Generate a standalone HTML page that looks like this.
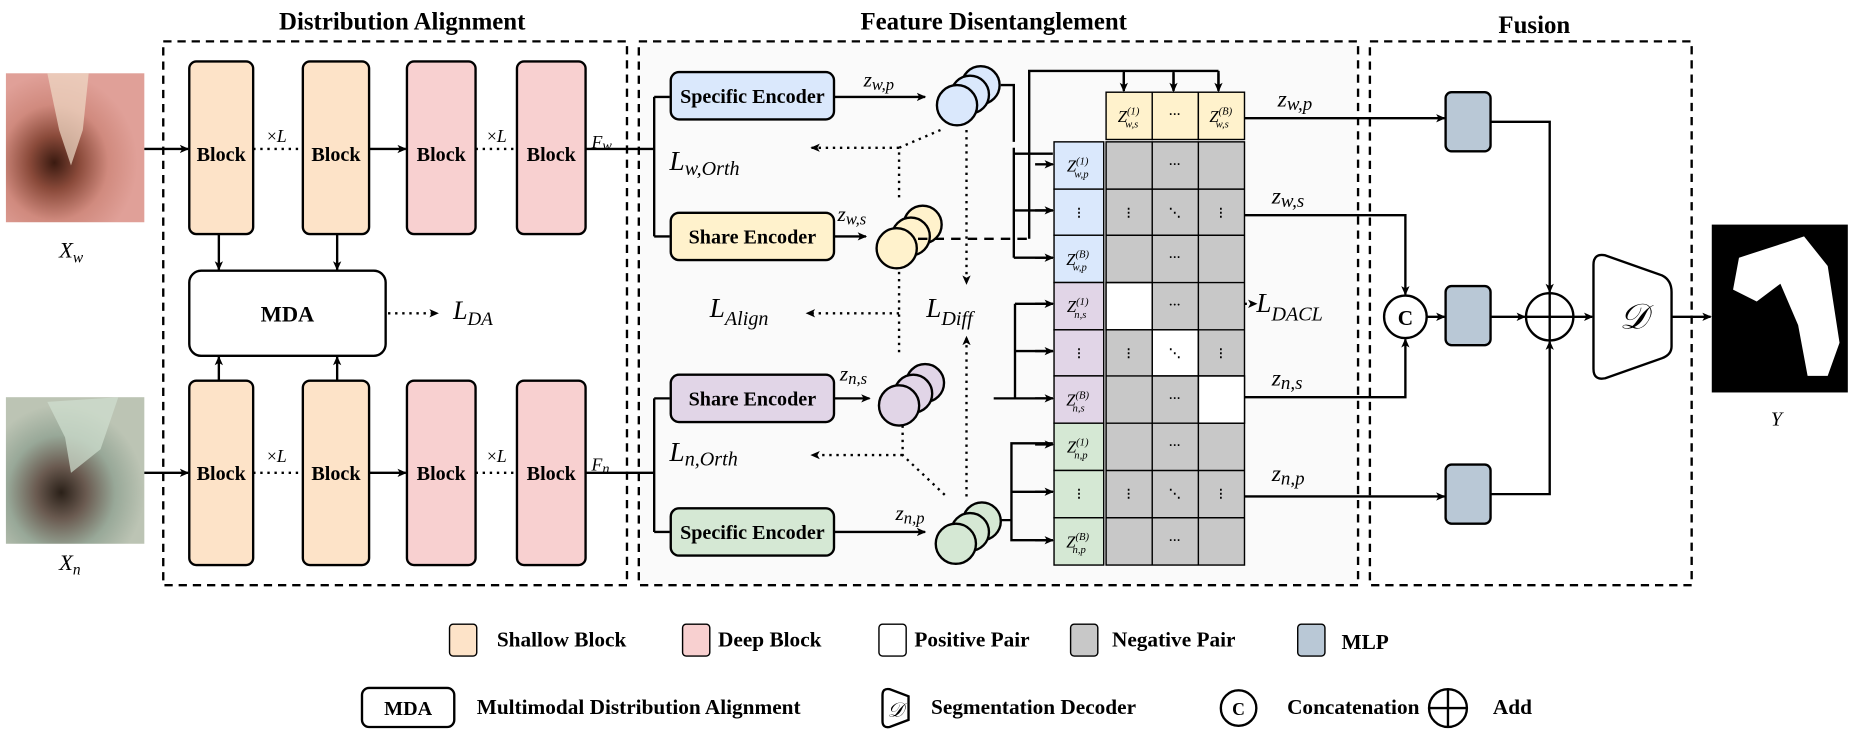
<!DOCTYPE html>
<html><head><meta charset="utf-8"><style>
html,body{margin:0;padding:0;background:#fff}
svg{display:block}
text{font-family:"Liberation Serif",serif}
.b{font-weight:bold}
.m{font-style:italic}
</style></head><body>
<svg width="1849" height="740" viewBox="0 0 1563 626" preserveAspectRatio="none" xmlns="http://www.w3.org/2000/svg">
<defs>
<marker id="a" markerWidth="8" markerHeight="8" refX="7" refY="4" orient="auto" markerUnits="userSpaceOnUse"><path d="M0,0.5 L8,4 L0,7.5 L2,4z" fill="#000"/></marker>
<radialGradient id="gw" cx="0.35" cy="0.6" r="0.6"><stop offset="0" stop-color="#3a1a10"/><stop offset="0.3" stop-color="#8a4a3a"/><stop offset="0.65" stop-color="#d08a7e"/><stop offset="1" stop-color="#e0a098"/></radialGradient>
<radialGradient id="gn" cx="0.4" cy="0.65" r="0.6"><stop offset="0" stop-color="#2a2018"/><stop offset="0.3" stop-color="#6a5a50"/><stop offset="0.65" stop-color="#98a898"/><stop offset="1" stop-color="#bcc4b4"/></radialGradient>
</defs>
<text x="340" y="25" font-size="21" class="b" text-anchor="middle">Distribution Alignment</text>
<text x="840" y="25" font-size="21" class="b" text-anchor="middle">Feature Disentanglement</text>
<text x="1297" y="28" font-size="21" class="b" text-anchor="middle">Fusion</text>
<rect x="541" y="36" width="606" height="458" fill="#f7f7f7" opacity="0.6"/>
<g fill="none" stroke="#000" stroke-width="2" stroke-dasharray="7,5">
<rect x="138" y="35" width="392" height="460"/>
<rect x="540" y="35" width="608" height="460"/>
<rect x="1158" y="35" width="272" height="460"/>
</g>
<rect x="5" y="62" width="117" height="126" fill="url(#gw)"/>
<path d="M40,62 L75,62 L70,110 L60,140 L50,110z" fill="#f0dcc8" opacity="0.7"/>
<rect x="5" y="336" width="117" height="124" fill="url(#gn)"/>
<path d="M40,340 L100,336 L85,380 L60,400 L55,370z" fill="#d0e0d0" opacity="0.7"/>
<text x="50" y="218" font-size="19" class="m">X<tspan font-size="13" dy="4">w</tspan></text>
<text x="50" y="482" font-size="19" class="m">X<tspan font-size="13" dy="4">n</tspan></text>
<rect x="1447" y="190" width="115" height="142" fill="#000"/>
<path d="M1470,218 L1510,205 L1525,200 L1545,225 L1555,290 L1545,318 L1528,318 L1520,275 L1505,240 L1485,255 L1465,245z" fill="#fff"/>
<text x="1497" y="360" font-size="17" class="m">Y</text>
<g stroke="#000" stroke-width="2">
<rect x="160" y="52" width="54" height="146" rx="6" fill="#fde3c8"/>
<rect x="256" y="52" width="56" height="146" rx="6" fill="#fde3c8"/>
<rect x="344" y="52" width="58" height="146" rx="6" fill="#f8d0d0"/>
<rect x="437" y="52" width="58" height="146" rx="6" fill="#f8d0d0"/>
<rect x="160" y="322" width="54" height="156" rx="6" fill="#fde3c8"/>
<rect x="256" y="322" width="56" height="156" rx="6" fill="#fde3c8"/>
<rect x="344" y="322" width="58" height="156" rx="6" fill="#f8d0d0"/>
<rect x="437" y="322" width="58" height="156" rx="6" fill="#f8d0d0"/>
<rect x="160" y="229" width="166" height="72" rx="10" fill="#fff"/>
</g>
<g font-size="17" class="b" text-anchor="middle">
<text x="187" y="136">Block</text><text x="284" y="136">Block</text><text x="373" y="136">Block</text><text x="466" y="136">Block</text>
<text x="187" y="406">Block</text><text x="284" y="406">Block</text><text x="373" y="406">Block</text><text x="466" y="406">Block</text>
<text x="243" y="272" font-size="19">MDA</text>
</g>
<g font-size="15" text-anchor="middle"><text x="234" y="120">×<tspan class="m">L</tspan></text><text x="420" y="120">×<tspan class="m">L</tspan></text>
<text x="234" y="391">×<tspan class="m">L</tspan></text><text x="420" y="391">×<tspan class="m">L</tspan></text></g>
<g stroke="#000" stroke-width="2" fill="none">
<line x1="122" y1="126" x2="159" y2="126" marker-end="url(#a)"/>
<line x1="122" y1="400" x2="159" y2="400" marker-end="url(#a)"/>
<line x1="312" y1="126" x2="343" y2="126" marker-end="url(#a)"/>
<line x1="312" y1="400" x2="343" y2="400" marker-end="url(#a)"/>
<line x1="185" y1="198" x2="185" y2="228" marker-end="url(#a)"/>
<line x1="285" y1="198" x2="285" y2="228" marker-end="url(#a)"/>
<line x1="185" y1="322" x2="185" y2="302" marker-end="url(#a)"/>
<line x1="285" y1="322" x2="285" y2="302" marker-end="url(#a)"/>
<path d="M495,126 H553 M553,82 V200 M553,82 H566 M553,200 H566" />
<path d="M495,400 H553 M553,337 V450 M553,337 H566 M553,450 H566"/>
</g>
<g stroke="#000" stroke-width="2" stroke-dasharray="2,4" fill="none">
<line x1="214" y1="126" x2="256" y2="126"/><line x1="402" y1="126" x2="437" y2="126"/>
<line x1="214" y1="400" x2="256" y2="400"/><line x1="402" y1="400" x2="437" y2="400"/>
<line x1="328" y1="265" x2="370" y2="265" marker-end="url(#a)"/>
</g>
<text x="500" y="125" font-size="15" class="m">F<tspan font-size="12" dy="2">w</tspan></text>
<text x="500" y="398" font-size="15" class="m">F<tspan font-size="12" dy="2">n</tspan></text>
<text x="383" y="270" font-size="22" class="m">L<tspan font-size="16" dy="5">DA</tspan></text>
<g stroke="#000" stroke-width="2">
<rect x="567" y="61" width="138" height="40" rx="7" fill="#dae8fc"/>
<rect x="567" y="180" width="138" height="40" rx="7" fill="#fff2cc"/>
<rect x="567" y="317" width="138" height="40" rx="7" fill="#e1d5e7"/>
<rect x="567" y="430" width="138" height="40" rx="7" fill="#d5e8d4"/>
</g>
<g font-size="17" class="b" text-anchor="middle">
<text x="636" y="87">Specific Encoder</text><text x="636" y="206">Share Encoder</text>
<text x="636" y="343">Share Encoder</text><text x="636" y="456">Specific Encoder</text></g>
<g stroke="#000" stroke-width="2">
<circle cx="829" cy="72" r="16" fill="#dae8fc"/><circle cx="820" cy="80" r="16" fill="#dae8fc"/><circle cx="809" cy="89" r="17" fill="#dae8fc"/>
<circle cx="780" cy="190" r="16" fill="#fff2cc"/><circle cx="770" cy="200" r="16" fill="#fff2cc"/><circle cx="758" cy="210" r="17" fill="#fff2cc"/>
<circle cx="782" cy="324" r="16" fill="#e1d5e7"/><circle cx="772" cy="333" r="16" fill="#e1d5e7"/><circle cx="760" cy="343" r="17" fill="#e1d5e7"/>
<circle cx="830" cy="441" r="16" fill="#d5e8d4"/><circle cx="820" cy="450" r="16" fill="#d5e8d4"/><circle cx="808" cy="460" r="17" fill="#d5e8d4"/>
</g>
<g stroke="#000" stroke-width="2" fill="none">
<line x1="705" y1="82" x2="782" y2="82" marker-end="url(#a)"/>
<line x1="705" y1="200" x2="732" y2="200" marker-end="url(#a)"/>
<line x1="705" y1="337" x2="735" y2="337" marker-end="url(#a)"/>
<line x1="705" y1="450" x2="782" y2="450" marker-end="url(#a)"/>
<path d="M846,72 H857 V120 M857,125 V155 M857,130 H890 M857,145 V218 M857,178 H890 M857,218 H890"/>
<path d="M870,202 V60 H1030 M950,60 V76 M992,60 V76 M1030,60 V76"/>
<path d="M858,257 H890 M858,257 V337 M840,337 H858 M858,297 H890 M858,337 H890"/>
<path d="M855,425 V375 H890 M855,416 H890 M855,425 V457 H890 M846,440 H855"/>
</g>
<g stroke="#000" stroke-width="2" fill="none" marker-end="url(#a)">
<line x1="950" y1="62" x2="950" y2="77"/><line x1="992" y1="62" x2="992" y2="77"/><line x1="1030" y1="62" x2="1030" y2="77"/>
<line x1="875" y1="139" x2="890" y2="139"/><line x1="875" y1="178" x2="890" y2="178"/><line x1="875" y1="218" x2="890" y2="218"/>
<line x1="875" y1="257" x2="890" y2="257"/><line x1="875" y1="297" x2="890" y2="297"/><line x1="875" y1="337" x2="890" y2="337"/>
<line x1="875" y1="376" x2="890" y2="376"/><line x1="875" y1="416" x2="890" y2="416"/><line x1="875" y1="457" x2="890" y2="457"/>
</g>
<line x1="776" y1="202" x2="870" y2="202" stroke="#000" stroke-width="2" stroke-dasharray="8,6"/>
<g stroke="#000" stroke-width="2" stroke-dasharray="2,4" fill="none">
<path d="M795,110 L760,125 V170"/>
<line x1="760" y1="125" x2="686" y2="125" marker-end="url(#a)"/>
<line x1="817" y1="110" x2="817" y2="240" marker-end="url(#a)"/>
<path d="M760,230 V300"/>
<line x1="760" y1="265" x2="682" y2="265" marker-end="url(#a)"/>
<line x1="817" y1="420" x2="817" y2="285" marker-end="url(#a)"/>
<path d="M763,360 V385 L800,420"/>
<line x1="763" y1="385" x2="686" y2="385" marker-end="url(#a)"/>
<line x1="1052" y1="257" x2="1062" y2="257" marker-end="url(#a)"/>
</g>
<g font-size="23" class="m">
<text x="566" y="144">L<tspan font-size="17" dy="4">w,Orth</tspan></text>
<text x="600" y="268">L<tspan font-size="17" dy="7">Align</tspan></text>
<text x="783" y="268">L<tspan font-size="17" dy="7">Diff</tspan></text>
<text x="566" y="390">L<tspan font-size="17" dy="4">n,Orth</tspan></text>
<text x="1062" y="264">L<tspan font-size="17" dy="7">DACL</tspan></text>
</g>
<g font-size="18" class="m">
<text x="730" y="73">z<tspan font-size="14" dy="3">w,p</tspan></text>
<text x="708" y="187">z<tspan font-size="14" dy="3">w,s</tspan></text>
<text x="710" y="322">z<tspan font-size="14" dy="3">n,s</tspan></text>
<text x="757" y="440">z<tspan font-size="14" dy="3">n,p</tspan></text>
<text x="1080" y="90" font-size="20">z<tspan font-size="16" dy="3">w,p</tspan></text>
<text x="1075" y="172" font-size="20">z<tspan font-size="16" dy="3">w,s</tspan></text>
<text x="1075" y="326" font-size="20">z<tspan font-size="16" dy="3">n,s</tspan></text>
<text x="1075" y="407" font-size="20">z<tspan font-size="16" dy="3">n,p</tspan></text>
</g>
<g stroke="#000" stroke-width="1.2">
<rect x="935" y="78" width="39" height="40" fill="#fff2cc"/><rect x="974" y="78" width="39" height="40" fill="#fff2cc"/><rect x="1013" y="78" width="39" height="40" fill="#fff2cc"/>
<rect x="891" y="120" width="42" height="40" fill="#dae8fc"/><rect x="891" y="160" width="42" height="39" fill="#dae8fc"/><rect x="891" y="199" width="42" height="40" fill="#dae8fc"/>
<rect x="891" y="239" width="42" height="40" fill="#e1d5e7"/><rect x="891" y="279" width="42" height="39" fill="#e1d5e7"/><rect x="891" y="318" width="42" height="40" fill="#e1d5e7"/>
<rect x="891" y="358" width="42" height="40" fill="#d5e8d4"/><rect x="891" y="398" width="42" height="40" fill="#d5e8d4"/><rect x="891" y="438" width="42" height="40" fill="#d5e8d4"/>
<rect x="935" y="120" width="117" height="358" fill="#c8c8c8"/>
<rect x="935" y="239" width="39" height="40" fill="#fff"/><rect x="974" y="279" width="39" height="39" fill="#fff"/><rect x="1013" y="318" width="39" height="40" fill="#fff"/>
<path d="M974,120 V478 M1013,120 V478 M935,160 H1052 M935,199 H1052 M935,239 H1052 M935,279 H1052 M935,318 H1052 M935,358 H1052 M935,398 H1052 M935,438 H1052" fill="none"/>
</g>
<g font-size="14" class="m" text-anchor="middle">
<text x="954" y="103">Z<tspan font-size="9" dy="-6">(1)</tspan><tspan font-size="9" dx="-12" dy="11">w,s</tspan></text>
<text x="1032" y="103">Z<tspan font-size="9" dy="-6">(B)</tspan><tspan font-size="9" dx="-14" dy="11">w,s</tspan></text>
<text x="911" y="145">Z<tspan font-size="9" dy="-6">(1)</tspan><tspan font-size="9" dx="-12" dy="11">w,p</tspan></text>
<text x="911" y="224">Z<tspan font-size="9" dy="-6">(B)</tspan><tspan font-size="9" dx="-14" dy="11">w,p</tspan></text>
<text x="911" y="264">Z<tspan font-size="9" dy="-6">(1)</tspan><tspan font-size="9" dx="-12" dy="11">n,s</tspan></text>
<text x="911" y="343">Z<tspan font-size="9" dy="-6">(B)</tspan><tspan font-size="9" dx="-14" dy="11">n,s</tspan></text>
<text x="911" y="383">Z<tspan font-size="9" dy="-6">(1)</tspan><tspan font-size="9" dx="-12" dy="11">n,p</tspan></text>
<text x="911" y="463">Z<tspan font-size="9" dy="-6">(B)</tspan><tspan font-size="9" dx="-14" dy="11">n,p</tspan></text>
</g>
<g font-size="10" text-anchor="middle" font-weight="bold">
<text x="993" y="100">···</text>
<text x="993" y="142">···</text><text x="993" y="221">···</text><text x="993" y="261">···</text><text x="993" y="340">···</text><text x="993" y="380">···</text><text x="993" y="460">···</text>
<text x="912" y="183">⋮</text><text x="954" y="183">⋮</text><text x="993" y="183">⋱</text><text x="1032" y="183">⋮</text>
<text x="912" y="302">⋮</text><text x="954" y="302">⋮</text><text x="993" y="302">⋱</text><text x="1032" y="302">⋮</text>
<text x="912" y="421">⋮</text><text x="954" y="421">⋮</text><text x="993" y="421">⋱</text><text x="1032" y="421">⋮</text>
</g>
<g stroke="#000" stroke-width="2" fill="none">
<line x1="1052" y1="100" x2="1221" y2="100" marker-end="url(#a)"/>
<path d="M1052,182 H1188 V249" marker-end="url(#a)"/>
<path d="M1052,336 H1188 V287" marker-end="url(#a)"/>
<line x1="1052" y1="420" x2="1221" y2="420" marker-end="url(#a)"/>
<line x1="1206" y1="268" x2="1221" y2="268" marker-end="url(#a)"/>
<line x1="1260" y1="268" x2="1289" y2="268" marker-end="url(#a)"/>
<path d="M1260,103 H1310 V247" marker-end="url(#a)"/>
<path d="M1260,418 H1310 V289" marker-end="url(#a)"/>
<line x1="1330" y1="268" x2="1346" y2="268" marker-end="url(#a)"/>
<line x1="1413" y1="268" x2="1446" y2="268" marker-end="url(#a)"/>
</g>
<g stroke="#000" stroke-width="2">
<rect x="1222" y="78" width="38" height="50" rx="5" fill="#b9c8d6"/>
<rect x="1222" y="242" width="38" height="50" rx="5" fill="#b9c8d6"/>
<rect x="1222" y="393" width="38" height="50" rx="5" fill="#b9c8d6"/>
<circle cx="1188" cy="268" r="18" fill="#fff"/>
<circle cx="1310" cy="268" r="20" fill="#fff"/>
<path d="M1290,268 H1330 M1310,248 V288"/>
<path d="M1347,224 Q1347,214 1357,216 L1405,233 Q1413,237 1413,247 V293 Q1413,300 1405,303 L1357,320 Q1347,322 1347,312z" fill="#fff"/>
</g>
<text x="1188" y="275" font-size="18" class="b" text-anchor="middle">C</text>
<text x="1381" y="278" font-size="30" class="m" text-anchor="middle">𝒟</text>
<g stroke="#000" stroke-width="1.2">
<rect x="380" y="528" width="23" height="27" rx="3" fill="#fde3c8"/>
<rect x="577" y="528" width="23" height="27" rx="3" fill="#f8d0d0"/>
<rect x="743" y="528" width="23" height="27" rx="3" fill="#fff"/>
<rect x="905" y="528" width="23" height="27" rx="3" fill="#c8c8c8"/>
<rect x="1097" y="528" width="23" height="27" rx="3" fill="#b9c8d6"/>
</g>
<g stroke="#000" stroke-width="2" fill="#fff">
<rect x="306" y="582" width="78" height="33" rx="6"/>
<path d="M746,588 Q746,582 752,583 L768,589 V609 L752,615 Q746,616 746,610z"/>
<circle cx="1047" cy="599" r="15"/>
<circle cx="1224" cy="599" r="16"/>
<path d="M1208,599 H1240 M1224,583 V615" fill="none"/>
</g>
<text x="345" y="605" font-size="17" class="b" text-anchor="middle">MDA</text>
<text x="757" y="606" font-size="17" class="m" text-anchor="middle">𝒟</text>
<text x="1047" y="605" font-size="15" class="b" text-anchor="middle">C</text>
<g font-size="18" class="b">
<text x="420" y="547">Shallow Block</text><text x="607" y="547">Deep Block</text><text x="773" y="547">Positive Pair</text>
<text x="940" y="547">Negative Pair</text><text x="1134" y="549">MLP</text>
<text x="403" y="604">Multimodal Distribution Alignment</text><text x="787" y="604">Segmentation Decoder</text>
<text x="1088" y="604">Concatenation</text><text x="1262" y="604">Add</text>
</g>
</svg>
</body></html>
